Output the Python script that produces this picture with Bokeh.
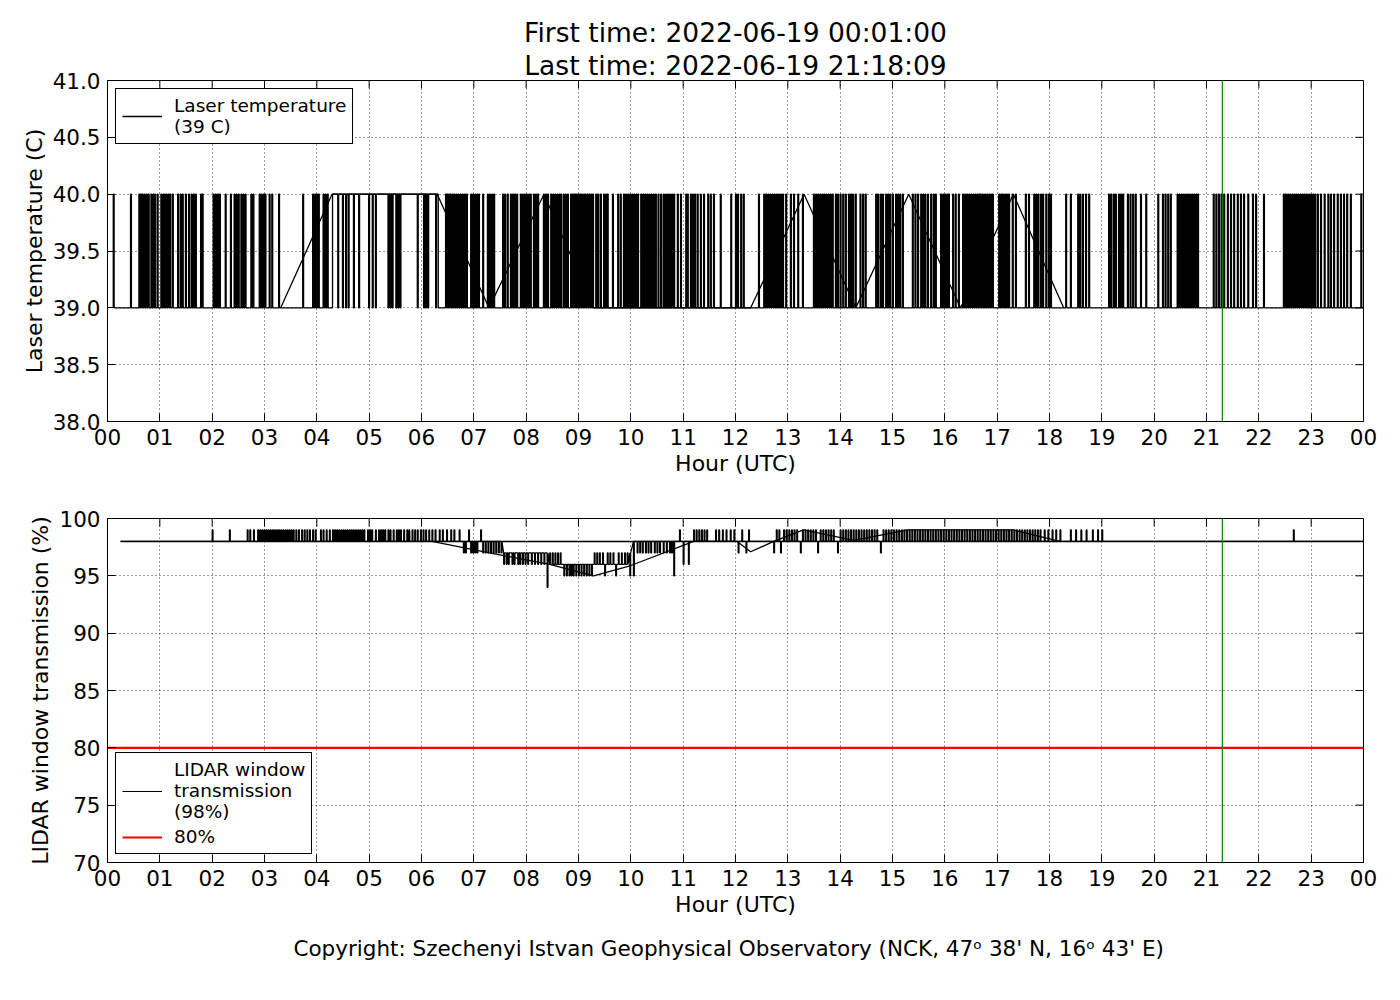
from bokeh.plotting import figure
from bokeh.models import (Range1d, FixedTicker, Span, Legend, LegendItem, Title,
                          NumeralTickFormatter)
from bokeh.layouts import column
from bokeh.embed import file_html
from bokeh.resources import INLINE

FONT = "DejaVu Sans"

# ---------------- data ----------------
hour_ticks = list(range(25))
hour_labels = ["%02d" % (h % 24) for h in hour_ticks]
laser_ticks = [38.0, 38.5, 39.0, 39.5, 40.0, 40.5, 41.0]
trans_ticks = [70, 75, 80, 85, 90, 95, 100]

first_time = "2022-06-19 00:01:00"
last_time = "2022-06-19 21:18:09"
last_hour = 21 + 18 / 60 + 9 / 3600

# Laser temperature (C)
laser_low = 39
laser_high = 40
laser_start_hour = 0.11
laser_end_hour = 24.0
laser_high_period = [4.30, 6.32]   # temperature sits at 40 C in this window
laser_spikes = [  # short jumps 39 -> 40
    0.11, 0.44, 0.60, 0.63, 0.66, 0.70, 0.74, 0.78, 0.83, 0.87, 0.90, 0.95,
    1.02, 1.06, 1.09, 1.12, 1.16, 1.19, 1.24, 1.34, 1.39, 1.43, 1.49, 1.55,
    1.60, 1.64, 1.68, 1.78, 1.81, 2.02, 2.06, 2.10, 2.14, 2.25, 2.35, 2.42,
    2.46, 2.50, 2.55, 2.59, 2.63, 2.74, 2.78, 2.90, 2.94, 2.98, 3.01, 3.09,
    3.14, 3.27, 3.73, 3.92, 3.96, 4.00, 4.03, 4.12, 4.16, 4.20,
    6.46, 6.49, 6.52, 6.55, 6.59, 6.62, 6.66, 6.70, 6.74, 6.78, 6.82, 6.86,
    6.94, 6.98, 7.02, 7.06, 7.09, 7.17, 7.26, 7.30, 7.34, 7.38, 7.55, 7.59,
    7.64, 7.70, 7.74, 7.78, 7.82, 7.89, 7.93, 7.97, 8.01, 8.05, 8.08, 8.14,
    8.18, 8.22, 8.33, 8.37, 8.41, 8.47, 8.51, 8.55, 8.59, 8.63, 8.66, 8.71,
    8.75, 8.79, 8.85, 8.88, 8.91, 8.94, 8.97, 9.00, 9.03, 9.06, 9.10, 9.13,
    9.17, 9.20, 9.24, 9.27, 9.33, 9.37, 9.42, 9.48, 9.52, 9.55, 9.65, 9.75,
    9.80, 9.86, 9.90, 9.94, 9.98, 10.02, 10.06, 10.10, 10.13, 10.19, 10.23,
    10.27, 10.31, 10.35, 10.39, 10.43, 10.47, 10.52, 10.57, 10.62, 10.66,
    10.70, 10.74, 10.78, 10.82, 10.89, 10.95, 11.05, 11.08, 11.14, 11.18,
    11.22, 11.27, 11.33, 11.39, 11.47, 11.52, 11.58, 11.71, 11.91, 12.00,
    12.04, 12.10, 12.15, 12.44, 12.54, 12.58, 12.62, 12.66, 12.70, 12.74,
    12.78, 12.82, 12.86, 12.90, 12.96, 13.05, 13.11, 13.19, 13.28, 13.49,
    13.53, 13.57, 13.61, 13.65, 13.69, 13.73, 13.77, 13.81, 13.85, 13.91,
    13.95, 14.00, 14.05, 14.10, 14.16, 14.20, 14.24, 14.29, 14.38, 14.43,
    14.48, 14.68, 14.72, 14.77, 14.81, 14.87, 14.91, 14.95, 15.00, 15.06,
    15.10, 15.14, 15.19, 15.38, 15.43, 15.48, 15.54, 15.58, 15.62, 15.67,
    15.73, 15.78, 15.82, 15.92, 15.96, 16.00, 16.04, 16.07, 16.15, 16.20,
    16.26, 16.34, 16.38, 16.42, 16.46, 16.50, 16.54, 16.58, 16.62, 16.65,
    16.68, 16.72, 16.76, 16.80, 16.84, 16.88, 16.91, 17.03, 17.07, 17.10,
    17.14, 17.18, 17.22, 17.29, 17.35, 17.54, 17.60, 17.70, 17.74, 17.78,
    17.83, 17.87, 17.93, 17.98, 18.02, 18.31, 18.40, 18.54, 18.58, 18.63,
    18.69, 18.75, 19.13, 19.17, 19.22, 19.26, 19.32, 19.36, 19.40, 19.49,
    19.54, 19.59, 19.64, 19.74, 19.84, 20.07, 20.16, 20.21, 20.26, 20.31,
    20.44, 20.48, 20.52, 20.56, 20.60, 20.64, 20.68, 20.72, 20.76, 20.80,
    20.83, 21.13, 21.18, 21.23, 21.28, 21.33, 21.40, 21.46, 21.52, 21.59,
    21.65, 21.71, 21.79, 21.88, 21.94, 22.09, 22.47, 22.51, 22.55, 22.59,
    22.63, 22.67, 22.71, 22.75, 22.79, 22.83, 22.87, 22.91, 22.95, 22.99,
    23.03, 23.07, 23.12, 23.18, 23.25, 23.32, 23.37, 23.43, 23.50, 23.56,
    23.62, 23.68, 23.75, 23.95,
]
laser_dips = [  # short drops 40 -> 39 during the high window
    4.40, 4.49, 4.55, 4.60, 4.70, 4.80, 4.99, 5.06, 5.12, 5.36, 5.40, 5.44,
    5.51, 5.55, 5.59, 5.92, 6.04, 6.08, 6.12, 6.27,
]
laser_gap_hours = [3.31, 4.29, 6.30, 7.29, 8.34, 9.29, 12.29, 13.31, 14.30,
                   15.31, 16.30, 17.31, 18.27]
laser_gap_temps = [39, 40, 40, 39, 40, 39, 39, 40, 39, 40, 39, 40, 39]

# LIDAR window transmission (%)
trans_nominal = 98
trans_threshold = 80
trans_start_hour = 0.25
trans_end_hour = 24.0
trans_up_98_99 = [
    2.00, 2.33, 2.67, 2.72, 2.79, 2.87, 2.91, 2.95, 2.99, 3.03, 3.07, 3.11,
    3.15, 3.19, 3.23, 3.27, 3.31, 3.35, 3.39, 3.43, 3.47, 3.51, 3.55, 3.60,
    3.65, 3.71, 3.76, 3.81, 3.86, 3.92, 3.97, 4.07, 4.12, 4.18, 4.24, 4.30,
    4.34, 4.38, 4.42, 4.46, 4.50, 4.54, 4.58, 4.62, 4.66, 4.70, 4.74, 4.78,
    4.82, 4.86, 4.90, 4.97, 5.01, 5.05, 5.12, 5.18, 5.22, 5.26, 5.30, 5.36,
    5.40, 5.46, 5.52, 5.56, 5.60, 5.66, 5.72, 5.76, 5.82, 5.87, 5.92, 5.98,
    6.03, 6.08, 6.14, 6.20, 6.26, 6.34, 6.40, 6.48, 6.56, 6.62, 6.72, 6.90,
    7.13, 10.93, 11.20, 11.25, 11.30, 11.35, 11.40, 11.45, 11.62, 11.68,
    11.75, 11.82, 11.90, 11.97, 12.12, 12.25, 12.78, 12.83, 12.92, 12.97,
    13.02, 13.07, 13.12, 13.17, 13.28, 13.33, 13.38, 13.43, 13.48, 13.53,
    13.62, 13.67, 13.72, 13.77, 13.82, 13.87, 14.00, 14.05, 14.10, 14.15,
    14.20, 14.25, 14.30, 14.35, 14.40, 14.45, 14.50, 14.55, 14.60, 14.65,
    14.70, 14.82, 14.87, 14.92, 14.97, 15.02, 15.07, 15.12, 15.17, 15.22,
    15.27, 15.32, 15.37, 15.42, 15.47, 15.52, 15.57, 15.62, 15.67, 15.72,
    15.77, 15.82, 15.87, 15.92, 15.97, 16.02, 16.07, 16.12, 16.17, 16.22,
    16.27, 16.32, 16.37, 16.42, 16.47, 16.52, 16.57, 16.62, 16.67, 16.72,
    16.77, 16.82, 16.87, 16.92, 16.97, 17.02, 17.07, 17.12, 17.17, 17.22,
    17.27, 17.32, 17.37, 17.42, 17.47, 17.52, 17.57, 17.62, 17.67, 17.72,
    17.77, 17.82, 17.90, 17.97, 18.05, 18.12, 18.20, 18.40, 18.50, 18.60,
    18.70, 18.82, 18.92, 19.00, 22.66,
]
trans_down_98_97 = [
    6.80, 6.84, 6.94, 6.98, 7.02, 7.06, 7.17, 7.22, 7.27, 7.32, 7.37, 7.42,
    7.47, 7.52, 10.12, 10.17, 10.22, 10.28, 10.33, 10.38, 10.45, 10.50, 10.55,
    10.62, 10.68, 10.74, 10.78, 12.05, 12.20, 12.73, 12.86, 13.24, 13.57,
    13.95, 14.77,
]
trans_down_97_96 = [7.57, 7.62, 7.66, 7.73, 7.77, 7.84, 7.88, 7.93, 7.98,
                    8.03, 8.10, 8.16, 8.22, 8.28, 8.34]
trans_up_96_97 = [8.45, 8.50, 8.55, 8.60, 8.65, 9.30, 9.35, 9.40, 9.46, 9.55,
                  9.60, 9.66, 9.76, 9.82, 9.88, 9.93]
trans_down_96_95 = [8.72, 8.77, 8.82, 8.86, 8.90, 8.95, 9.00, 9.05, 9.10,
                    9.15, 9.20, 9.25, 9.50, 9.71]
trans_down_98_96 = [11.00, 11.10]
trans_deep_hours = [8.40, 9.98, 10.05, 10.82]
trans_deep_from = [97, 97, 98, 98]
trans_deep_to = [94, 95, 95, 95]
trans_trend_hours = [6.20, 7.30, 8.45, 9.29, 10.00, 11.20, 12.03, 12.29,
                     12.73, 13.30, 14.26, 15.30, 17.30, 18.20]
trans_trend_values = [98, 97.0, 96.0, 95.0, 95.9, 98.0, 98.0, 97.1, 98.0,
                      99.0, 98.1, 99.0, 99.0, 98.0]

SAMPLE = 1 / 60  # one-minute sample width (hours)


def build_laser():
    xs, ys = [laser_start_hour], [laser_low]
    evs = [(h, "spike", laser_low, laser_high) for h in laser_spikes]
    evs += [(h, "spike", laser_high, laser_low) for h in laser_dips]
    evs += [(laser_high_period[0], "step", laser_low, laser_high),
            (laser_high_period[1], "step", laser_high, laser_low)]
    for h, kind, a, b in sorted(evs, key=lambda e: e[0]):
        if kind == "step":
            xs += [h, h]
            ys += [a, b]
        else:
            xs += [h, h, h + SAMPLE, h + SAMPLE]
            ys += [a, b, b, a]
    xs.append(laser_end_hour)
    ys.append(laser_low)
    return xs, ys


def build_trans():
    evs = [(h, 98, 99) for h in trans_up_98_99]
    evs += [(h, 98, 97) for h in trans_down_98_97]
    evs += [(h, 97, 96) for h in trans_down_97_96]
    evs += [(h, 96, 97) for h in trans_up_96_97]
    evs += [(h, 96, 95) for h in trans_down_96_95]
    evs += [(h, 98, 96) for h in trans_down_98_96]
    evs += list(zip(trans_deep_hours, trans_deep_from, trans_deep_to))
    xs, ys = [trans_start_hour], [trans_nominal]
    for h, a, b in sorted(evs, key=lambda e: e[0]):
        xs += [h, h, h + SAMPLE, h + SAMPLE]
        ys += [a, b, b, a]
    xs.append(trans_end_hour)
    ys.append(trans_nominal)
    return xs, ys


# ---------------- styling helpers ----------------
FRAME_W = 1256
FRAME_H = 344
LEFT = 107
RIGHT = 27
W = LEFT + FRAME_W + RIGHT
TICK_PX = 8


def style_axis(ax):
    ax.axis_label_text_font = FONT
    ax.axis_label_text_font_style = "normal"
    ax.axis_label_text_font_size = "22px"
    ax.axis_label_text_color = "black"
    ax.major_label_text_font = FONT
    ax.major_label_text_font_size = "21.5px"
    ax.major_label_text_color = "black"
    ax.major_tick_in = TICK_PX
    ax.major_tick_out = 0
    ax.minor_tick_line_color = None
    ax.axis_line_color = "black"
    ax.major_tick_line_color = "black"
    ax.major_label_standoff = 7
    ax.axis_label_standoff = 3


def style(p, yticks, ylabel, fmt):
    x0, x1 = hour_ticks[0], hour_ticks[-1]
    y0, y1 = yticks[0], yticks[-1]
    p.x_range = Range1d(x0, x1)
    p.y_range = Range1d(y0, y1)
    p.xaxis.ticker = FixedTicker(ticks=hour_ticks)
    p.xaxis.major_label_overrides = {t: l for t, l in zip(hour_ticks, hour_labels)}
    p.yaxis.ticker = FixedTicker(ticks=yticks)
    p.yaxis.formatter = NumeralTickFormatter(format=fmt)
    p.xaxis.axis_label = "Hour (UTC)"
    p.yaxis.axis_label = ylabel
    style_axis(p.xaxis[0])
    style_axis(p.yaxis[0])
    # inward tick marks on the top and right frame edges (mirrored ticks)
    dx = (x1 - x0) * TICK_PX / FRAME_W
    dy = (y1 - y0) * TICK_PX / FRAME_H
    p.segment(x0=[x1] * len(yticks), y0=yticks, x1=[x1 - dx] * len(yticks),
              y1=yticks, line_color="black", line_width=1)
    p.segment(x0=hour_ticks, y0=[y1] * len(hour_ticks), x1=hour_ticks,
              y1=[y1 - dy] * len(hour_ticks), line_color="black", line_width=1)
    for g in (p.xgrid[0], p.ygrid[0]):
        g.grid_line_color = "black"
        g.grid_line_dash = "1 3"
        g.grid_line_alpha = 0.8
        g.grid_line_width = 1
    p.outline_line_color = "black"
    p.outline_line_alpha = 1
    p.outline_line_width = 1
    p.background_fill_color = "white"
    p.border_fill_color = "white"
    p.add_layout(Span(location=last_hour, dimension="height",
                      line_color="#008000", line_width=1.2))


def style_legend(leg):
    leg.label_text_font = FONT
    leg.label_text_font_size = "18.5px"
    leg.label_text_color = "black"
    leg.border_line_color = "black"
    leg.border_line_alpha = 1
    leg.border_line_width = 1
    leg.background_fill_alpha = 1
    leg.glyph_width = 40
    leg.label_standoff = 12
    leg.padding = 6
    leg.margin = 8
    leg.spacing = 4
    leg.label_height = 18


def make_title(text, size, standoff):
    return Title(text=text, align="center", text_font=FONT,
                 text_font_size=size, text_font_style="normal",
                 text_color="black", standoff=standoff)


# ---------------- top figure ----------------
p1 = figure(width=W, height=478, output_backend="svg", toolbar_location=None,
            min_border_left=LEFT, min_border_right=RIGHT,
            min_border_top=80, min_border_bottom=54)
p1.title = None
style(p1, laser_ticks, "Laser temperature (C)", "0.0")
lx, ly = build_laser()
r_laser = p1.line(lx, ly, line_color="black", line_width=1.3)
p1.line(laser_gap_hours, laser_gap_temps, line_color="black", line_width=1.3)
leg1 = Legend(items=[LegendItem(label="Laser temperature\n(39 C)",
                                renderers=[r_laser])],
              location="top_left")
style_legend(leg1)
p1.add_layout(leg1)
p1.add_layout(make_title("Last time: " + last_time, "26.5px", 0), "above")
p1.add_layout(make_title("First time: " + first_time, "26.5px", 0), "above")

# ---------------- bottom figure ----------------
p2 = figure(width=W, height=514, output_backend="svg", toolbar_location=None,
            min_border_left=LEFT, min_border_right=RIGHT,
            min_border_top=40, min_border_bottom=130)
p2.title = None
style(p2, trans_ticks, "LIDAR window transmission (%)", "0")
tx, ty = build_trans()
r_trans = p2.line(tx, ty, line_color="black", line_width=1.2)
p2.line([trans_start_hour, trans_end_hour], [trans_nominal, trans_nominal],
        line_color="black", line_width=1.6)
p2.line(trans_trend_hours, trans_trend_values, line_color="black", line_width=1.3)
r_thr = p2.line([hour_ticks[0], hour_ticks[-1]], [trans_threshold, trans_threshold],
                line_color="red", line_width=2.2)
leg2 = Legend(items=[
    LegendItem(label="LIDAR window\ntransmission\n(98%)", renderers=[r_trans]),
    LegendItem(label="80%", renderers=[r_thr]),
], location="bottom_left")
style_legend(leg2)
p2.add_layout(leg2)
p2.add_layout(make_title("Copyright: Szechenyi Istvan Geophysical Observatory "
                         "(NCK, 47\u1d52  38' N, 16\u1d52  43' E)",
                         "21.5px", 28), "below")

layout = column(p1, p2, spacing=0)
open("out.html", "w").write(file_html(layout, INLINE))
